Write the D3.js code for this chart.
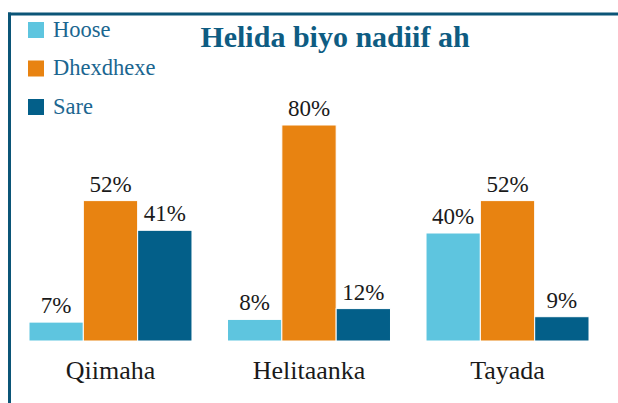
<!DOCTYPE html>
<html lang="en">
<head>
<meta charset="UTF-8">
<title>Helida biyo nadiif ah</title>
<script src="https://cdn.jsdelivr.net/npm/d3@7"></script>
<style>
    body{ margin:0; background:#fff; }
    svg text{ font-family:"Liberation Serif", "Times New Roman", Times, serif; }
</style>
</head>
<body>
<div id="chart"></div>
<script>
    // chart data
    const categories = ["Qiimaha", "Helitaanka", "Tayada"]
    const levels = ["Hoose", "Dhexdhexe", "Sare"]
    const hoose = [7, 8, 40]
    const dhexdhexe = [52, 80, 52]
    const sare = [41, 12, 9]
    const colors = ["#5ec5df", "#e88311", "#035f89"]

    const width = 618, height = 403
    const serif = "'Liberation Serif', 'Times New Roman', serif"
    const svg = d3.select("#chart").append("svg")
        .attr("width", width).attr("height", height)

    // frame lines top and left
    svg.append("line").attr("x1", 8).attr("x2", width).attr("y1", 14).attr("y2", 14)
        .attr("stroke", "#0b5577").attr("stroke-width", 3)
    svg.append("line").attr("x1", 9.5).attr("x2", 9.5).attr("y1", 12.5).attr("y2", height)
        .attr("stroke", "#0b5577").attr("stroke-width", 3)

    const x0 = d3.scaleBand().domain(categories).range([29, 589]).paddingInner(0.179).paddingOuter(0)
    const x1 = d3.scaleBand().domain(levels).range([0, x0.bandwidth()])
    const y = d3.scaleLinear().domain([0, 100]).range([341, 71])

    const series = [hoose, dhexdhexe, sare]
    const rows = categories.map((c, i) => ({
        cat: c,
        vals: levels.map((l, j) => ({level: l, value: series[j][i], color: colors[j]}))
    }))

    const groups = svg.selectAll(".grp").data(rows).enter().append("g")
        .attr("class", "grp")
        .attr("transform", d => `translate(${x0(d.cat)},0)`)

    groups.selectAll("rect").data(d => d.vals).enter().append("rect")
        .attr("x", d => x1(d.level))
        .attr("y", d => y(d.value))
        .attr("width", x1.bandwidth())
        .attr("height", d => y(0) - y(d.value))
        .attr("fill", d => d.color)
        .attr("stroke", "#fff")
        .attr("stroke-width", 1)

    groups.selectAll(".val").data(d => d.vals).enter().append("text")
        .attr("class", "val")
        .attr("x", d => x1(d.level) + x1.bandwidth() / 2)
        .attr("y", d => y(d.value) - 9)
        .attr("text-anchor", "middle")
        .attr("font-family", serif)
        .attr("font-size", 23)
        .attr("fill", "#1a1a1a")
        .text(d => d.value + "%")

    // category labels
    svg.selectAll(".cat").data(categories).enter().append("text")
        .attr("class", "cat")
        .attr("x", d => x0(d) + x0.bandwidth() / 2)
        .attr("y", 379)
        .attr("text-anchor", "middle")
        .attr("font-family", serif)
        .attr("font-size", 26)
        .attr("fill", "#1a1a1a")
        .text(d => d)

    // title
    svg.append("text")
        .attr("x", 335).attr("y", 47)
        .attr("text-anchor", "middle")
        .attr("font-family", serif)
        .attr("font-size", 30)
        .attr("font-weight", "bold")
        .attr("fill", "#0e5c82")
        .text("Helida biyo nadiif ah")

    // legend
    const legend = svg.selectAll(".leg").data(levels).enter().append("g")
        .attr("class", "leg")
        .attr("transform", (d, i) => `translate(28,${22 + i * 38.5})`)
    legend.append("rect").attr("width", 16).attr("height", 16)
        .attr("fill", (d, i) => colors[i])
    legend.append("text").attr("x", 25).attr("y", 14.5)
        .attr("font-family", serif)
        .attr("font-size", 22.5)
        .attr("fill", "#1b6690")
        .text(d => d)
</script>
</body>
</html>
